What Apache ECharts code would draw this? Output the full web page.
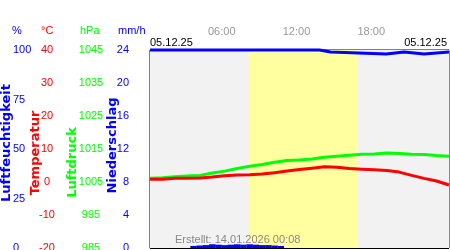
<!DOCTYPE html>
<html>
<head>
<meta charset="utf-8">
<script src="https://cdn.jsdelivr.net/npm/echarts@6/dist/echarts.min.js"></script>
<style>
html,body{margin:0;padding:0;background:#fff;}
#chart{width:450px;height:250px;}
</style>
</head>
<body>
<div id="chart"></div>
<script>
// ---- data ----
const hours = [0,1,2,3,4,5,6,7,8,9,10,11,12,13,14,15,16,17,18,19,20,21,22,23,24];
const temperature = [0.8,0.8,1.1,1.1,1.2,1.5,1.9,2.1,2.2,2.4,2.8,3.3,3.8,4.2,4.6,4.5,4.1,3.9,3.7,3.5,3.0,2.0,1.1,0.3,-0.9];
const pressure = [1006.1,1006.3,1006.6,1006.8,1007.0,1007.7,1008.3,1009.1,1009.8,1010.3,1011.0,1011.5,1011.7,1012.0,1012.5,1012.8,1013.1,1013.4,1013.5,1013.8,1013.6,1013.4,1013.3,1013.0,1012.8];
const humidityTimes = [0,13.6,14.5,18.96,20.4,22,24];
const humidity = [100,99,98,99,98,99,99];
const precipTimes = [3.5,4,4.5,5,5.5,6,6.5,7,7.5,8,8.5,9,9.5,10,10.5];
const precip = [0.25,0.3,0.35,0.45,0.4,0.35,0.4,0.45,0.4,0.45,0.4,0.35,0.35,0.3,0.25];
const daylight = [7.92, 16.64];
const dayRange = [0, 24];
const dateLabel = '05.12.25';
const createdLabel = 'Erstellt: 14.01.2026 00:08';
const unitLabels = ['%', '°C', 'hPa', 'mm/h'];
const axisNames = ['Luftfeuchtigkeit', 'Temperatur', 'Luftdruck', 'Niederschlag'];

const BLUE = '#0000ff', RED = '#ff0000', GREEN = '#00ff00';
const FONT = 'Liberation Sans, Arial, sans-serif';
const NAME_FONT = 'DejaVu Sans, sans-serif';

const zip = (a, b) => a.map((v, i) => [v, b[i]]);

const chart = echarts.init(document.getElementById('chart'), null, {renderer: 'canvas'});

function yAx(o) {
  return Object.assign({
    type: 'value', position: 'left', offset: 0,
    axisLine: {show: false}, axisTick: {show: false},
    splitLine: {show: false},
    nameLocation: 'middle', nameRotate: 90, nameMoveOverlap: false,
  }, o);
}
const nameStyle = (color, pad) => ({color, fontSize: 13, fontWeight: 'bold', fontFamily: NAME_FONT, padding: pad});
const labelStyle = (color, align, margin) => ({color, fontSize: 11, align, margin, padding: [0,0,5,0], formatter: v => String(v)});

const option = {
  animation: false,
  textStyle: {fontFamily: FONT},
  grid: {left: 150, top: 50, width: 299, height: 198, show: true, borderColor: '#000', borderWidth: 1,
    backgroundColor: 'transparent', containLabel: false, outerBoundsMode: 'none'},
  xAxis: {
    type: 'value', min: dayRange[0], max: dayRange[1], interval: 6, position: 'top',
    axisLine: {show: false}, axisTick: {show: false},
    axisLabel: {color: '#999', fontSize: 11, margin: 13, padding: [0, 6, 0, 0],
      formatter: v => (v > 0 && v < 24) ? String(v).padStart(2, '0') + ':00' : ''},
    splitLine: {show: true, lineStyle: {color: '#888', width: 1}}
  },
  yAxis: [
    yAx({min: -20, max: 40, interval: 10,
      axisLabel: labelStyle(RED, 'center', 103),
      splitLine: {show: true, lineStyle: {color: '#000', width: 1}},
      name: axisNames[1], nameGap: 108, nameTextStyle: nameStyle(RED, [0, 8, 0, 0])}),
    yAx({min: 0, max: 100, interval: 25,
      axisLabel: labelStyle(BLUE, 'left', 137),
      name: axisNames[0], nameGap: 137, nameTextStyle: nameStyle(BLUE, [0, 0, 0, 12])}),
    yAx({min: 985, max: 1045, interval: 10,
      axisLabel: labelStyle(GREEN, 'center', 59),
      name: axisNames[2], nameGap: 71, nameTextStyle: nameStyle(GREEN, [0, 27, 0, 0])}),
    yAx({min: 0, max: 24, interval: 4,
      axisLabel: labelStyle(BLUE, 'right', 21),
      name: axisNames[3], nameGap: 31, nameTextStyle: nameStyle(BLUE, [0, 0, 0, 7])})
  ],
  graphic: [
    {type: 'text', left: 12, top: 25, style: {text: unitLabels[0], fill: BLUE, font: '11px ' + FONT}},
    {type: 'text', left: 41, top: 25, style: {text: unitLabels[1], fill: RED, font: '11px ' + FONT}},
    {type: 'text', left: 80, top: 25, style: {text: unitLabels[2], fill: GREEN, font: '11px ' + FONT}},
    {type: 'text', left: 118, top: 25, style: {text: unitLabels[3], fill: BLUE, font: '11px ' + FONT}},
    {type: 'text', left: 150, top: 37, style: {text: dateLabel, fill: '#000', font: '11px ' + FONT}},
    {type: 'text', right: 3, top: 37, style: {text: dateLabel, fill: '#000', font: '11px ' + FONT}},
    {type: 'text', left: 175, top: 234, z: 10, style: {text: createdLabel, fill: '#888', font: '11px ' + FONT}}
  ],
  series: [
    {type: 'line', data: [], z: -3, silent: true, xAxisIndex: 0, yAxisIndex: 0,
      markArea: {silent: true, itemStyle: {color: '#f2f2f2'}, data: [[{xAxis: dayRange[0]}, {xAxis: dayRange[1]}]]}},
    {type: 'line', data: [], z: -2, silent: true, xAxisIndex: 0, yAxisIndex: 0,
      markArea: {silent: true, itemStyle: {color: '#ffffa0'}, data: [[{xAxis: daylight[0]}, {xAxis: daylight[1]}]]}},
    {type: 'bar', yAxisIndex: 3, data: zip(precipTimes, precip), barWidth: 6.5, itemStyle: {color: BLUE}, z: 3},
    {type: 'line', yAxisIndex: 2, data: zip(hours, pressure), showSymbol: false, lineStyle: {color: GREEN, width: 3}, z: 4},
    {type: 'line', yAxisIndex: 0, data: zip(hours, temperature), showSymbol: false, lineStyle: {color: RED, width: 3}, z: 5},
    {type: 'line', yAxisIndex: 1, data: zip(humidityTimes, humidity), step: 'end', showSymbol: false, clip: false, lineStyle: {color: BLUE, width: 3}, z: 6}
  ]
};
chart.setOption(option);
</script>
</body>
</html>
